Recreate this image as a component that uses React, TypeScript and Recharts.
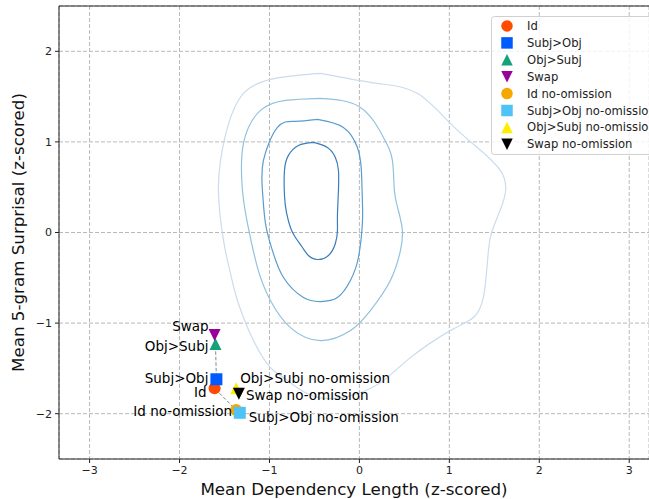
import React from 'react';
import {
  ScatterChart,
  Scatter,
  XAxis,
  YAxis,
  CartesianGrid,
  Legend,
  ReferenceLine,
  Label,
} from 'recharts';

const FONT = '"DejaVu Sans", sans-serif';

// condition means (z-scored dependency length, z-scored 5-gram surprisal)
const seriesNames = [
  'Id',
  'Subj>Obj',
  'Obj>Subj',
  'Swap',
  'Id no-omission',
  'Subj>Obj no-omission',
  'Obj>Subj no-omission',
  'Swap no-omission',
];
const seriesX = [-1.61, -1.59, -1.6, -1.61, -1.37, -1.33, -1.37, -1.34];
const seriesY = [-1.72, -1.62, -1.23, -1.13, -1.96, -1.99, -1.72, -1.78];
const seriesColors = ['#ff4a00', '#005bff', '#12a37a', '#990099', '#f5a800', '#4fc3f7', '#ffee00', '#000000'];
const seriesShapes = ['circle', 'square', 'triangle', 'down', 'circle', 'square', 'triangle', 'down'];

// text placement of the point annotations (pixels from the marker)
const labelPlace = [
  { dx: -8, dy: 4, anchor: 'end' },
  { dx: -8, dy: -1, anchor: 'end' },
  { dx: -7, dy: 2, anchor: 'end' },
  { dx: -6, dy: -9, anchor: 'end' },
  { dx: -4, dy: 1, anchor: 'end' },
  { dx: 9, dy: 4, anchor: 'start' },
  { dx: 4, dy: -10, anchor: 'start' },
  { dx: 7, dy: 1, anchor: 'start' },
];

// dashed connector: Swap -> Obj>Subj -> Subj>Obj -> Id -> Id no-omission
const connectorOrder = [3, 2, 1, 0, 4];

// KDE density contours of the real sentences, outermost first
const contourOuter = [
  [-0.433, 1.757], [0.2, 1.646], [0.644, 1.536], [1.011, 1.204], [1.311, 0.939], [1.567, 0.685],
  [1.622, 0.431], [1.533, 0.166], [1.456, -0.055], [1.422, -0.343], [1.378, -0.718], [1.267, -0.939],
  [1.011, -1.083], [0.567, -1.381], [0.267, -1.635], [-0.022, -1.779], [-0.322, -1.834], [-0.6, -1.768],
  [-0.844, -1.602], [-0.989, -1.492], [-1.178, -1.193], [-1.356, -0.751], [-1.433, -0.453], [-1.511, -0.088],
  [-1.567, 0.431], [-1.544, 0.796], [-1.467, 1.16], [-1.289, 1.536], [-0.933, 1.702], [-0.433, 1.757],
];
const contourSecond = [
  [-0.433, 1.481], [0.011, 1.381], [0.267, 1.05], [0.367, 0.796], [0.389, 0.464], [0.433, 0.243],
  [0.478, 0.022], [0.456, -0.199], [0.344, -0.53], [0.122, -0.862], [-0.1, -1.083], [-0.433, -1.193],
  [-0.767, -1.05], [-0.989, -0.751], [-1.133, -0.387], [-1.244, 0.099], [-1.3, 0.464], [-1.289, 0.983],
  [-1.1, 1.348], [-0.822, 1.459], [-0.433, 1.481],
];
const contourThird = [
  [-0.467, 1.249], [-0.178, 1.16], [-0.022, 0.939], [0.022, 0.685], [0.033, 0.354], [0.033, 0.099],
  [-0.011, -0.276], [-0.1, -0.53], [-0.244, -0.718], [-0.433, -0.762], [-0.622, -0.718], [-0.844, -0.497],
  [-0.967, -0.199], [-1.044, 0.099], [-1.078, 0.464], [-1.067, 0.796], [-0.911, 1.16], [-0.711, 1.227],
  [-0.467, 1.249],
];
const contourInner = [
  [-0.511, 0.994], [-0.356, 0.939], [-0.267, 0.829], [-0.233, 0.685], [-0.233, 0.464], [-0.244, 0.188],
  [-0.244, 0.022], [-0.267, -0.122], [-0.344, -0.254], [-0.467, -0.298], [-0.567, -0.254], [-0.633, -0.166],
  [-0.711, -0.055], [-0.767, 0.055], [-0.811, 0.221], [-0.833, 0.409], [-0.833, 0.685], [-0.789, 0.851],
  [-0.678, 0.961], [-0.511, 0.994],
];
const contours = [contourOuter, contourSecond, contourThird, contourInner];
const contourColors = ['#cadcee', '#92c1df', '#5a9ccc', '#3a7dbb'];

const xTicks = [-3, -2, -1, 0, 1, 2, 3];
const yTicks = [-2, -1, 0, 1, 2];

const minus = (v: number) => String(v).replace('-', '\u2212');

const Marker = ({ kind, cx, cy, s, fill }: any) => {
  const h = s / 2;
  if (kind === 'circle') return <circle cx={cx} cy={cy} r={h} fill={fill} />;
  if (kind === 'square') return <rect x={cx - h} y={cy - h} width={s} height={s} fill={fill} />;
  if (kind === 'triangle')
    return <polygon points={`${cx},${cy - h} ${cx + h},${cy + h} ${cx - h},${cy + h}`} fill={fill} />;
  return <polygon points={`${cx},${cy + h} ${cx + h},${cy - h} ${cx - h},${cy - h}`} fill={fill} />;
};

const LegendBox = () => (
  <svg width={170} height={140} style={{ overflow: 'visible', display: 'block' }}>
    <rect x={0.5} y={0.5} width={168} height={138} rx={3} fill="#ffffff" fillOpacity={0.8} stroke="#d0d0d0" />
    {seriesNames.map((name, i) => (
      <g key={name}>
        <Marker kind={seriesShapes[i]} cx={16} cy={10 + i * 16.9} s={11.5} fill={seriesColors[i]} />
        <text x={36} y={10 + i * 16.9} dominantBaseline="central" fontSize={11.6} fontFamily={FONT} fill="#222">
          {name}
        </text>
      </g>
    ))}
  </svg>
);

export default function App() {
  const connector = connectorOrder.map((i) => ({ x: seriesX[i], y: seriesY[i] }));

  return (
    <div style={{ position: 'absolute', left: 0, top: 0 }}>
      <ScatterChart width={649} height={499} margin={{ top: 6, right: 0, bottom: 0, left: 0 }}>
        <CartesianGrid stroke="#b8b8b8" strokeDasharray="4 2" />
        <XAxis
          type="number"
          dataKey="x"
          domain={[-3.34, 3.22]}
          allowDataOverflow
          ticks={xTicks}
          tickFormatter={minus}
          height={40}
          tickSize={4}
          tickMargin={3}
          stroke="#222"
          tick={{ fill: '#222', fontSize: 11, fontFamily: FONT }}
        >
          <Label
            content={({ viewBox }: any) => (
              <text
                x={viewBox.x + viewBox.width / 2}
                y={495}
                textAnchor="middle"
                fontSize={16.7}
                fontFamily={FONT}
                fill="#111"
              >
                Mean Dependency Length (z-scored)
              </text>
            )}
          />
        </XAxis>
        <YAxis
          type="number"
          dataKey="y"
          domain={[-2.5, 2.5]}
          allowDataOverflow
          ticks={yTicks}
          tickFormatter={minus}
          width={59}
          tickSize={4}
          tickMargin={3}
          stroke="#222"
          tick={{ fill: '#222', fontSize: 11, fontFamily: FONT }}
        >
          <Label
            content={({ viewBox }: any) => {
              const cy = viewBox.y + viewBox.height / 2;
              return (
                <text
                  x={18}
                  y={cy}
                  transform={`rotate(-90, 18, ${cy})`}
                  textAnchor="middle"
                  dominantBaseline="central"
                  fontSize={16.7}
                  fontFamily={FONT}
                  fill="#111"
                >
                  Mean 5-gram Surprisal (z-scored)
                </text>
              );
            }}
          />
        </YAxis>
        <ReferenceLine y={2.5} stroke="#222" />

        {contours.map((c, k) => (
          <Scatter
            key={`contour-${k}`}
            data={c.map(([x, y]) => ({ x, y }))}
            line={{ stroke: contourColors[k], strokeWidth: 1.2 }}
            lineJointType="natural"
            shape={() => <g />}
            legendType="none"
            isAnimationActive={false}
          />
        ))}

        <Scatter
          data={connector}
          line={{ stroke: '#888888', strokeWidth: 1, strokeDasharray: '3.5 2' }}
          shape={() => <g />}
          legendType="none"
          isAnimationActive={false}
        />

        {seriesNames.map((name, i) => (
          <Scatter
            key={name}
            name={name}
            data={[{ x: seriesX[i], y: seriesY[i] }]}
            isAnimationActive={false}
            shape={(p: any) => (
              <g>
                <Marker kind={seriesShapes[i]} cx={p.cx} cy={p.cy} s={12} fill={seriesColors[i]} />
                <text
                  x={p.cx + labelPlace[i].dx}
                  y={p.cy + labelPlace[i].dy}
                  textAnchor={labelPlace[i].anchor}
                  dominantBaseline="central"
                  fontSize={13.5}
                  fontFamily={FONT}
                  fill="#000"
                >
                  {name}
                </text>
              </g>
            )}
          />
        ))}

        <Legend
          layout="vertical"
          align="center"
          verticalAlign="middle"
          content={() => <LegendBox />}
          wrapperStyle={{ position: 'absolute', left: 491, top: 16, width: 170, height: 140 }}
        />
      </ScatterChart>
    </div>
  );
}
